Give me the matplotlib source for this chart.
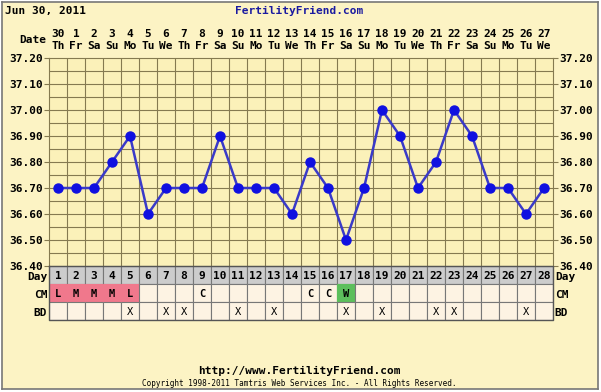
import matplotlib.pyplot as plt
from matplotlib.patches import Rectangle
import numpy as np

# Chart data
days = list(range(1, 29))
dates = [30] + list(range(1, 28))
weekdays = ['Th', 'Fr', 'Sa', 'Su', 'Mo', 'Tu', 'We'] * 4
temps = [36.70, 36.70, 36.70, 36.80, 36.90, 36.60, 36.70, 36.70, 36.70, 36.90,
         36.70, 36.70, 36.70, 36.60, 36.80, 36.70, 36.50, 36.70, 37.00, 36.90,
         36.70, 36.80, 37.00, 36.90, 36.70, 36.70, 36.60, 36.70]
cm = {1: 'L', 2: 'M', 3: 'M', 4: 'M', 5: 'L', 9: 'C', 15: 'C', 16: 'C', 17: 'W'}
bd_days = [5, 7, 8, 11, 13, 17, 19, 22, 23, 27]
yticks = [36.40, 36.50, 36.60, 36.70, 36.80, 36.90, 37.00, 37.10, 37.20]

W, H = 601, 392
bg = '#fcf3c4'
grid_c = '#857a50'
font = 'DejaVu Sans Mono'
fs = 8

fig = plt.figure(figsize=(W / 100, H / 100), dpi=100, facecolor='white')

def px(x0, y0, x1, y1):
    return [x0 / W, 1 - y1 / H, (x1 - x0) / W, (y1 - y0) / H]

# outer panel with border
panel = fig.add_axes(px(2, 2, 598, 389))
panel.set_facecolor(bg)
panel.set_xticks([])
panel.set_yticks([])
for s in panel.spines.values():
    s.set_color('#777777')
    s.set_linewidth(1.2)

# temperature chart
ax = fig.add_axes(px(49, 58, 553, 266))
ax.set_facecolor('#fbf1b9')
ax.set_xlim(0.5, 28.5)
ax.set_ylim(36.40, 37.20)
for x in np.arange(1.5, 28.5, 1):
    ax.axvline(x, color=grid_c, lw=0.8)
for y in np.arange(36.45, 37.20, 0.05):
    ax.axhline(y, color=grid_c, lw=0.8)
ax.plot(days, temps, color='#3a3ac8', lw=1.8, marker='o', ms=6.5,
        mfc='#1010e0', mec='#1010e0', zorder=5)
ax.set_xticks([])
ax.set_yticks(yticks)
ax.set_yticklabels(['%.2f' % t for t in yticks], fontfamily=font,
                   fontweight='bold', fontsize=fs)
ax.tick_params(axis='y', length=3.5, color=grid_c, labelright=True, right=True,
               pad=1)
for s in ax.spines.values():
    s.set_color(grid_c)

# table below the chart
tb = fig.add_axes(px(49, 266, 553, 320))
tb.set_xlim(0.5, 28.5)
tb.set_ylim(3, 0)
tb.axis('off')
for d in days:
    tb.add_patch(Rectangle((d - 0.5, 0), 1, 1, fc='#cccccc', ec='#777777', lw=0.8))
    tb.text(d, 0.55, str(d), ha='center', va='center', fontfamily=font,
            fontweight='bold', fontsize=fs)
    c = cm.get(d, '')
    fc = '#fdf3e3'
    if c in ('L', 'M'):
        fc = '#f0788c'
    elif c == 'W':
        fc = '#5cbf5c'
    tb.add_patch(Rectangle((d - 0.5, 1), 1, 1, fc=fc,
                           ec='#777777' if fc == '#fdf3e3' else fc, lw=0.8))
    tb.add_patch(Rectangle((d - 0.5, 2), 1, 1, fc='#fdf3e3', ec='#777777', lw=0.8))
    if c:
        tb.text(d, 1.55, c, ha='center', va='center', fontfamily=font,
                fontweight='bold', fontsize=7.5)
    if d in bd_days:
        tb.text(d, 2.55, 'X', ha='center', va='center', fontfamily=font,
                fontsize=7.5)
tb.plot([0.5, 28.5, 28.5, 0.5, 0.5], [0, 0, 3, 3, 0], color='#555555', lw=1,
        clip_on=False)
for i, lab in enumerate(['Day', 'CM', 'BD']):
    tb.text(0.4, i + 0.6, lab, ha='right', va='center', fontfamily=font,
            fontweight='bold', fontsize=fs)
    tb.text(28.6, i + 0.6, lab, ha='left', va='center', fontfamily=font,
            fontweight='bold', fontsize=fs)

# date header
for d in days:
    x = (49 + 18 * (d - 0.5)) / W
    fig.text(x, 1 - 34 / H, str(dates[d - 1]), ha='center', va='center',
             fontfamily=font, fontweight='bold', fontsize=fs)
    fig.text(x, 1 - 46 / H, weekdays[d - 1], ha='center', va='center',
             fontfamily=font, fontweight='bold', fontsize=fs)
fig.text(46 / W, 1 - 40 / H, 'Date', ha='right', va='center', fontfamily=font,
         fontweight='bold', fontsize=fs)

# titles
fig.text(5 / W, 1 - 11 / H, 'Jun 30, 2011', ha='left', va='center',
         fontfamily=font, fontweight='bold', fontsize=fs)
fig.text(299 / W, 1 - 11 / H, 'FertilityFriend.com', ha='center', va='center',
         fontfamily=font, fontweight='bold', fontsize=fs, color='#1a1aa0')
fig.text(299 / W, 1 - 371 / H, 'http://www.FertilityFriend.com', ha='center',
         va='center', fontfamily=font, fontweight='bold', fontsize=fs)
fig.text(299 / W, 1 - 383 / H,
         'Copyright 1998-2011 Tamtris Web Services Inc. - All Rights Reserved.',
         ha='center', va='center', fontfamily=font, fontsize=5.5)

fig.savefig('out.png', dpi=100, facecolor='white')
